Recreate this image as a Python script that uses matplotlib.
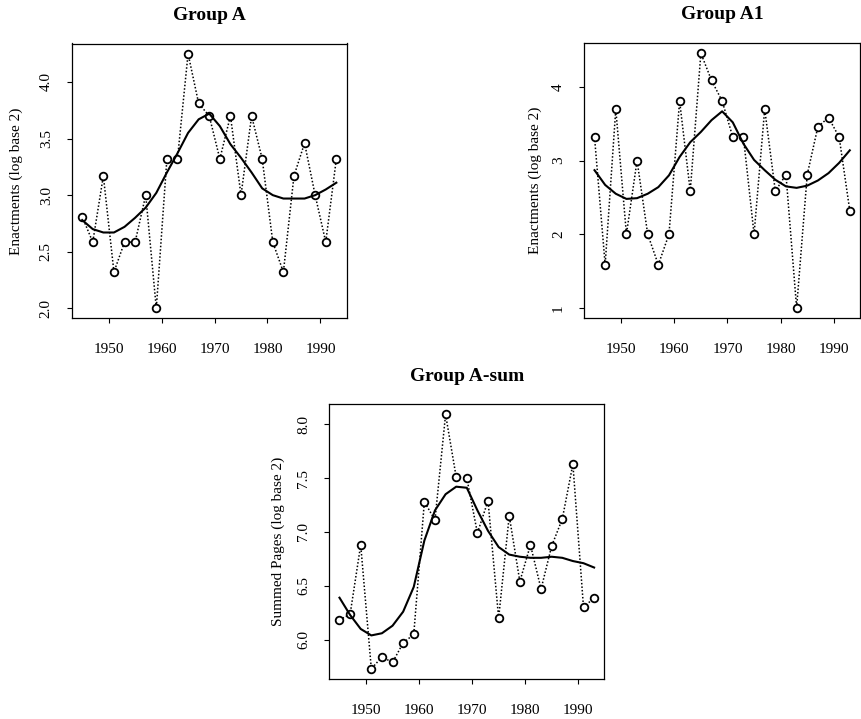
import matplotlib
matplotlib.use("Agg")
import matplotlib.pyplot as plt

plt.rcParams['font.family'] = ['Liberation Serif', 'DejaVu Serif']

years = [1945, 1947, 1949, 1951, 1953, 1955, 1957, 1959, 1961, 1963, 1965, 1967, 1969,
         1971, 1973, 1975, 1977, 1979, 1981, 1983, 1985, 1987, 1989, 1991, 1993]

group_a = [2.81, 2.585, 3.17, 2.32, 2.585, 2.585, 3.00, 2.00, 3.32, 3.32, 4.25, 3.81, 3.70,
           3.32, 3.70, 3.00, 3.70, 3.32, 2.585, 2.32, 3.17, 3.46, 3.00, 2.585, 3.32]
group_a_smooth = [2.78, 2.70, 2.67, 2.67, 2.72, 2.80, 2.89, 3.02, 3.20, 3.37, 3.55, 3.67, 3.72,
                  3.61, 3.45, 3.33, 3.20, 3.06, 3.00, 2.97, 2.97, 2.97, 3.00, 3.05, 3.11]

group_a1 = [3.32, 1.585, 3.70, 2.00, 3.00, 2.00, 1.585, 2.00, 3.81, 2.585, 4.46, 4.09, 3.81,
            3.32, 3.32, 2.00, 3.70, 2.585, 2.81, 1.00, 2.81, 3.46, 3.585, 3.32, 2.32]
group_a1_smooth = [2.87, 2.67, 2.55, 2.48, 2.49, 2.55, 2.64, 2.80, 3.05, 3.25, 3.39, 3.55, 3.67,
                   3.52, 3.23, 3.01, 2.87, 2.74, 2.65, 2.63, 2.66, 2.73, 2.83, 2.97, 3.14]

group_sum = [6.185, 6.235, 6.88, 5.73, 5.84, 5.79, 5.97, 6.05, 7.28, 7.11, 8.09, 7.51, 7.50,
             6.99, 7.29, 6.20, 7.15, 6.54, 6.88, 6.47, 6.87, 7.12, 7.63, 6.30, 6.39]
group_sum_smooth = [6.39, 6.23, 6.10, 6.04, 6.06, 6.13, 6.26, 6.49, 6.92, 7.20, 7.35, 7.42, 7.41,
                    7.20, 7.01, 6.86, 6.79, 6.77, 6.76, 6.76, 6.77, 6.76, 6.73, 6.71, 6.67]

xticks = [1950, 1960, 1970, 1980, 1990]
yticks_a = [2.0, 2.5, 3.0, 3.5, 4.0]
yticks_a1 = [1, 2, 3, 4]
yticks_sum = [6.0, 6.5, 7.0, 7.5, 8.0]

W, H = 861, 719
fig = plt.figure(figsize=(W / 100, H / 100), dpi=100)


def px_axes(left, top, right, bottom):
    return fig.add_axes([left / W, 1 - bottom / H, (right - left) / W, (bottom - top) / H])


def draw(ax, y, ys, title, ylabel, yticks, ytlabels, ylab_px):
    ax.plot(years, y, color='black', lw=1.1, linestyle=(0, (1, 1.3)),
            dash_capstyle='butt', zorder=2)
    ax.plot(years, y, linestyle='none', marker='o', markersize=5.5,
            markerfacecolor='white', markeredgecolor='black', markeredgewidth=1.3, zorder=3)
    ax.plot(years, ys, color='black', lw=1.5, zorder=4)
    ax.margins(x=0.04, y=0.04)
    ax.set_xticks(xticks)
    ax.set_xticklabels([str(t) for t in xticks])
    ax.set_yticks(yticks)
    ax.set_yticklabels(ytlabels)
    for s in ax.spines.values():
        s.set_linewidth(0.9)
    ax.tick_params(axis='both', direction='out', length=3.8, width=0.8, labelsize=11)
    ax.tick_params(axis='x', pad=14)
    ax.tick_params(axis='y', pad=10, labelrotation=90)
    for lab in ax.get_yticklabels():
        lab.set_va('center')
    ax.set_title(title, fontsize=14, fontweight='bold', pad=17)
    ax.set_ylabel(ylabel, fontsize=11)
    bb = ax.get_position()
    ax.yaxis.set_label_coords(-ylab_px / (bb.width * W), 0.5)


ax1 = px_axes(72, 43.5, 346.5, 318.5)
draw(ax1, group_a, group_a_smooth, 'Group A', 'Enactments (log base 2)',
     yticks_a, ['2.0', '2.5', '3.0', '3.5', '4.0'], 49)

ax2 = px_axes(584.3, 43, 860, 318)
draw(ax2, group_a1, group_a1_smooth, 'Group A1', 'Enactments (log base 2)',
     yticks_a1, ['1', '2', '3', '4'], 42)

ax3 = px_axes(329.3, 404.3, 604.3, 679)
draw(ax3, group_sum, group_sum_smooth, 'Group A-sum', 'Summed Pages (log base 2)',
     yticks_sum, ['6.0', '6.5', '7.0', '7.5', '8.0'], 44)

fig.savefig('out.png', dpi=100)
